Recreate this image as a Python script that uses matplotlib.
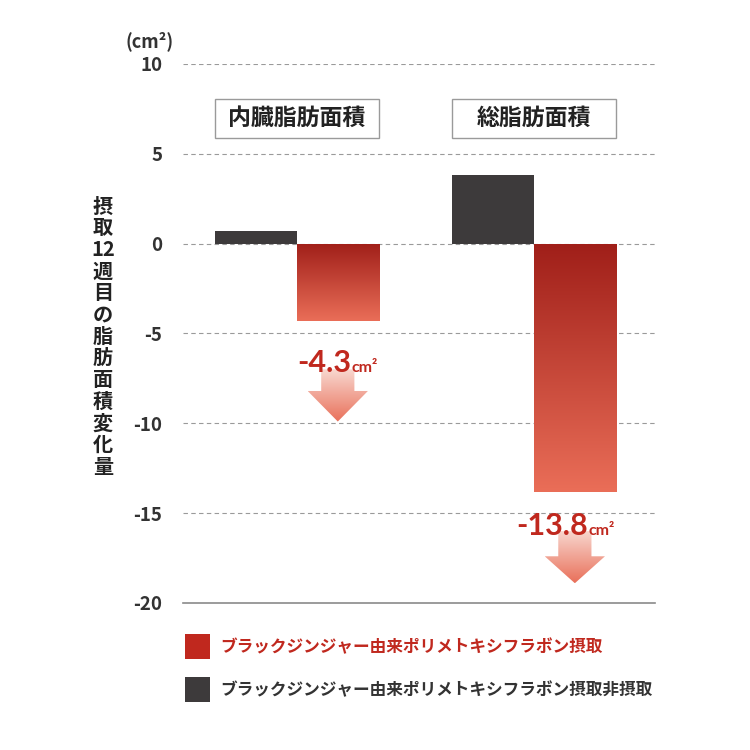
import numpy as np
import matplotlib
matplotlib.use("Agg")
import matplotlib.pyplot as plt
from matplotlib.colors import LinearSegmentedColormap
from matplotlib.patches import Polygon, Rectangle

plt.rcParams['font.family'] = ['Noto Sans CJK JP', 'DejaVu Sans']

# data
groups = ['内臓脂肪面積', '総脂肪面積']
intake = [-4.3, -13.8]        # ブラックジンジャー由来ポリメトキシフラボン摂取
no_intake = [0.7, 3.8]        # 摂取非摂取
change_labels = ['-4.3', '-13.8']
yticks = [10, 5, 0, -5, -10, -15, -20]
legend_labels = ['ブラックジンジャー由来ポリメトキシフラボン摂取',
                 'ブラックジンジャー由来ポリメトキシフラボン摂取非摂取']
ylabel_chars = ['摂', '取', '12', '週', '目', 'の', '脂', '肪', '面', '積', '変', '化', '量']

RED = '#c0281e'
DARK = '#3d3a3b'
TEXT = '#333333'

fig = plt.figure(figsize=(7.5, 7.5), dpi=100)
ax = fig.add_axes([0.244, 0.196, 0.629, 0.7187])

x = np.arange(len(groups))
w = 0.346

bars_dark = ax.bar(x - w / 2, no_intake, w, color=DARK, zorder=3)
bars_red = ax.bar(x + w / 2, intake, w, color='none', zorder=3)

bar_cmap = LinearSegmentedColormap.from_list('bar', ['#a01f19', '#ea6e58'])
arrow_cmap = LinearSegmentedColormap.from_list('arr', ['#f8d8d0', '#e9705a'])
grad = np.linspace(0, 1, 256).reshape(-1, 1)


def gradient_patch(patch, x0, x1, ytop, ybot, cmap):
    im = ax.imshow(grad, cmap=cmap, aspect='auto', origin='upper',
                   extent=[x0, x1, ybot, ytop], zorder=patch.get_zorder(),
                   interpolation='bicubic')
    im.set_clip_path(patch)


for xi, v, b in zip(x, intake, bars_red):
    gradient_patch(b, xi, xi + w, 0, v, bar_cmap)

# down arrows with labels
arrow_geo = [(-7.0, -8.2, -9.9), (-16.0, -17.4, -18.9)]
text_y = [-7.13, -16.24]
for xi, lab, (yt, yh, ytip), ty in zip(x, change_labels, arrow_geo, text_y):
    cx = xi + w / 2
    sw, hw = 0.07, 0.127
    pts = [(cx - sw, yt), (cx + sw, yt), (cx + sw, yh), (cx + hw, yh),
           (cx, ytip), (cx - hw, yh), (cx - sw, yh)]
    poly = Polygon(pts, closed=True, facecolor='none', edgecolor='none', zorder=4)
    ax.add_patch(poly)
    gradient_patch(poly, cx - hw, cx + hw, yt, ytip, arrow_cmap)
    tx = cx + 0.055
    ax.text(tx, ty, lab, ha='right', va='baseline', color=RED, fontsize=22,
            fontweight='bold', family=['Lato', 'DejaVu Sans'], zorder=6)
    ax.text(tx + 0.002, ty, 'cm²', ha='left', va='baseline', color=RED,
            fontsize=11.5, fontweight='bold', family=['Lato', 'DejaVu Sans'], zorder=6)

# group title boxes
for xi, g in zip(x, groups):
    ax.add_patch(Rectangle((xi - w, 5.86), 2 * w, 2.21, facecolor='white',
                           edgecolor='#9a9a9a', lw=1, zorder=5))
    ax.text(xi, 6.95, g, ha='center', va='center', fontsize=16.5,
            fontweight='bold', color='#222222', zorder=6)

# grid
for yv in yticks[:-1]:
    ax.axhline(yv, color='#9a9a9a', lw=0.8, ls=(0, (4, 3)), zorder=1)

ax.set_xlim(-0.48, 1.51)
ax.set_ylim(-20, 10)
ax.set_yticks(yticks)
ax.set_yticklabels([str(t) for t in yticks], fontsize=13.5, fontweight='bold', color=TEXT)
ax.tick_params(axis='y', length=0, pad=15)
ax.set_xticks([])
for s in ['top', 'right', 'left']:
    ax.spines[s].set_visible(False)
ax.spines['bottom'].set_color('#8a8a8a')
ax.spines['bottom'].set_linewidth(1.2)

# unit label
fig.text(150 / 750, 1 - 41 / 750, '(cm²)', ha='center', va='center',
         fontsize=13, fontweight='bold', color=TEXT)

# vertical y label
for i, ch in enumerate(ylabel_chars):
    fig.text(103 / 750, 1 - (206 + i * 21.7) / 750, ch, ha='center', va='center',
             fontsize=14.5, fontweight='bold', color='#222222')

# legend
for i, (lab, col, tcol) in enumerate(zip(legend_labels, [RED, DARK], [RED, TEXT])):
    yc = 647 + i * 43
    fig.patches.append(Rectangle((185 / 750, 1 - (yc + 12) / 750), 25 / 750, 25 / 750,
                                 transform=fig.transFigure, facecolor=col,
                                 edgecolor='none'))
    fig.text(220 / 750, 1 - yc / 750, lab, ha='left', va='center', fontsize=12,
             fontweight='bold', color=tcol)

fig.savefig('out.png', dpi=100)
